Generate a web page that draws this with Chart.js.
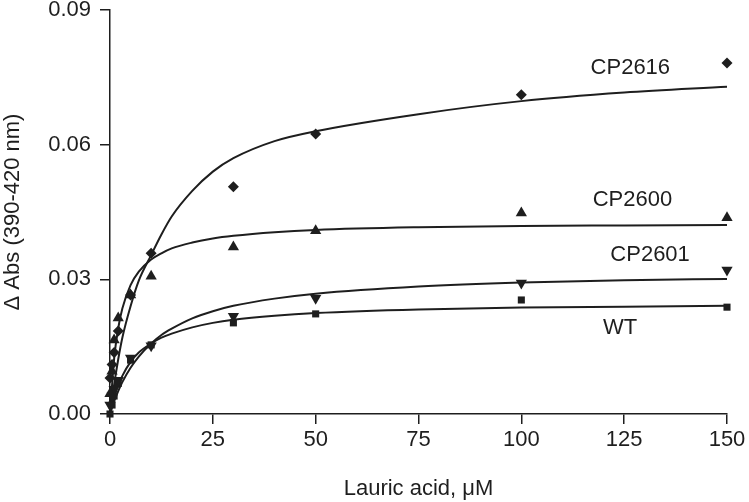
<!DOCTYPE html>
<html>
<head>
<meta charset="utf-8">
<script src="https://cdn.jsdelivr.net/npm/chart.js@4/dist/chart.umd.min.js"></script>
<style>
html,body{margin:0;padding:0;background:#fff;}
#wrap{width:749px;height:502px;}
</style>
</head>
<body>
<div id="wrap"><canvas id="c" width="749" height="502"></canvas></div>
<script>
// measured concentrations (µM)
const concX = [0, 0.5, 1, 2, 5, 10, 30, 50, 100, 150];
const cp2616Obs = [0.0080, 0.0110, 0.0137, 0.0185, 0.0265, 0.0358, 0.0506, 0.0624, 0.0711, 0.0782];
const cp2600Obs = [0.0045, 0.0095, 0.0165, 0.0214, 0.0265, 0.0307, 0.0372, 0.0408, 0.0448, 0.0437];
const cp2601Obs = [0.0020, 0.0040, 0.0055, 0.0075, 0.0125, 0.0152, 0.0218, 0.0258, 0.0292, 0.0321];
const wtObs     = [0.0000, 0.0020, 0.0040, 0.0068, 0.0120, 0.0154, 0.0203, 0.0223, 0.0254, 0.0238];

// fitted curves
const fitX      = [0, 1, 2, 3, 5, 7, 10, 12.5, 15, 20, 25, 30, 40, 50, 75, 100, 125, 150];
const cp2616Fit = [0, 0.0065, 0.0122, 0.0170, 0.0240, 0.0297, 0.0354, 0.0400, 0.0440, 0.0497, 0.0540, 0.0570, 0.0608, 0.0630, 0.0668, 0.0697, 0.0716, 0.0729];
const cp2600Fit = [0, 0.0123, 0.0191, 0.0235, 0.0287, 0.0317, 0.0344, 0.0358, 0.0369, 0.0382, 0.0391, 0.0397, 0.0405, 0.0410, 0.0416, 0.0419, 0.0420, 0.0421];
const cp2601Fit = [0, 0.0028, 0.0051, 0.0071, 0.0103, 0.0128, 0.0157, 0.0176, 0.0190, 0.0213, 0.0229, 0.0241, 0.0257, 0.0268, 0.0284, 0.0293, 0.0298, 0.0301];
const wtFit     = [0, 0.0036, 0.0064, 0.0085, 0.0116, 0.0137, 0.0157, 0.0170, 0.0179, 0.0193, 0.0203, 0.0210, 0.0219, 0.0225, 0.0233, 0.0237, 0.0239, 0.0241];

const xTicks = [0, 25, 50, 75, 100, 125, 150];
const yTicks = [0, 0.03, 0.06, 0.09];

// curve labels: [text, x, y] in data units
const seriesLabels = [
  ["CP2616", 126.5, 0.0771],
  ["CP2600", 127.0, 0.0477],
  ["CP2601", 131.3, 0.0354],
  ["WT", 124.0, 0.0192]
];

const INK = '#1e1e1e';
const pts = (xs, ys) => xs.map((x, i) => ({x: x, y: ys[i]}));

function obsSet(label, ys, style, r, rot) {
  return {
    label: label, data: pts(concX, ys), showLine: false,
    pointStyle: style, pointRadius: r, pointHoverRadius: r, pointRotation: rot || 0,
    backgroundColor: INK, borderColor: INK, borderWidth: 0, order: 1
  };
}
function fitSet(label, ys) {
  return {
    label: label, data: pts(fitX, ys), showLine: true, pointRadius: 0,
    borderColor: INK, borderWidth: 2, cubicInterpolationMode: 'monotone',
    fill: false, order: 2
  };
}

const labelPlugin = {
  id: 'seriesLabels',
  afterDatasetsDraw(chart) {
    const ctx = chart.ctx, xs = chart.scales.x, ys = chart.scales.y;
    ctx.save();
    ctx.fillStyle = INK;
    ctx.font = '22px "Liberation Sans", Arial, sans-serif';
    ctx.textAlign = 'center';
    ctx.textBaseline = 'middle';
    seriesLabels.forEach(l => ctx.fillText(l[0], xs.getPixelForValue(l[1]), ys.getPixelForValue(l[2])));
    ctx.restore();
  }
};

const FONT = {family: '"Liberation Sans", Arial, sans-serif', size: 22};

new Chart(document.getElementById('c'), {
  type: 'scatter',
  data: {
    datasets: [
      fitSet('CP2616 fit', cp2616Fit),
      fitSet('CP2600 fit', cp2600Fit),
      fitSet('CP2601 fit', cp2601Fit),
      fitSet('WT fit', wtFit),
      obsSet('CP2616', cp2616Obs, 'rectRot', 5.5),
      obsSet('CP2600', cp2600Obs, 'triangle', 6.5),
      obsSet('CP2601', cp2601Obs, 'triangle', 6.5, 180),
      obsSet('WT', wtObs, 'rect', 5)
    ]
  },
  options: {
    responsive: false,
    animation: false,
    clip: false,
    layout: {padding: {left: 0, right: 22, top: 10, bottom: 0}},
    plugins: {legend: {display: false}, tooltip: {enabled: false}},
    scales: {
      x: {
        type: 'linear', min: 0, max: 150,
        afterFit(s) { s.height = 88; s.paddingLeft = 0; s.paddingRight = 0; },
        afterBuildTicks(s) { s.ticks = xTicks.map(v => ({value: v})); },
        grid: {display: true, drawOnChartArea: false, drawTicks: true, tickLength: 10, color: INK, lineWidth: 1.5},
        border: {display: true, color: INK, width: 1.5},
        ticks: {color: INK, font: FONT, padding: 3, maxRotation: 0, autoSkip: false},
        title: {display: true, text: 'Lauric acid, \u03BCM', color: INK, font: FONT, padding: {top: 14, bottom: 0}}
      },
      y: {
        type: 'linear', min: 0, max: 0.09,
        afterFit(s) { s.width = 110; s.paddingTop = 0; s.paddingBottom = 0; },
        afterBuildTicks(s) { s.ticks = yTicks.map(v => ({value: v})); },
        grid: {display: true, drawOnChartArea: false, drawTicks: true, tickLength: 10, color: INK, lineWidth: 1.5},
        border: {display: true, color: INK, width: 1.5},
        ticks: {color: INK, font: FONT, padding: 9, callback: v => Number(v).toFixed(2)},
        title: {display: true, text: '\u0394 Abs (390-420 nm)', color: INK, font: FONT, padding: {top: 0, bottom: 0}}
      }
    }
  },
  plugins: [labelPlugin]
});
</script>
</body>
</html>
